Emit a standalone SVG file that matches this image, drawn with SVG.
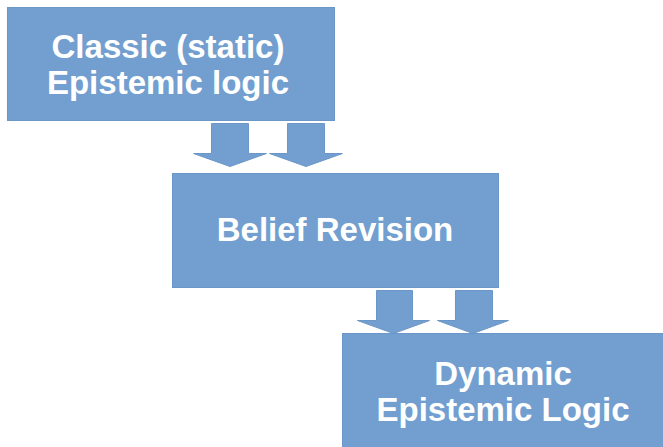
<svg xmlns="http://www.w3.org/2000/svg" width="663" height="447" viewBox="0 0 663 447">
<style>
.box{fill:#729fcf;stroke:#6b97c8;stroke-width:1}
.arr{fill:#729fcf;stroke:#6b97c8;stroke-width:1}
.lbl{font-family:"Liberation Sans",Arial,sans-serif;font-weight:bold;font-size:33px;fill:#ffffff;text-anchor:middle}
</style>
<rect width="663" height="447" fill="#ffffff"/>
<g id="connectors">
<path class="arr" d="M211.5,123.5 H248.5 V153.5 H266.5 L230,166.5 L193.5,153.5 H211.5 Z"/>
<path class="arr" d="M287.5,123.5 H324.5 V153.5 H342.5 L306,166.5 L269.5,153.5 H287.5 Z"/>
<path class="arr" d="M376.5,290.5 H412.5 V320.5 H429.5 L393.5,333.5 L357.5,320.5 H376.5 Z"/>
<path class="arr" d="M455.5,290.5 H492.5 V320.5 H508.5 L473,333.5 L437.5,320.5 H455.5 Z"/>
</g>
<g id="node-classic">
<rect class="box" x="7.5" y="7.5" width="327" height="113"/>
<text class="lbl" x="168" y="58">Classic (static)</text>
<text class="lbl" x="168" y="94">Epistemic logic</text>
</g>
<g id="node-belief">
<rect class="box" x="172.5" y="173.5" width="326" height="114"/>
<text class="lbl" x="335" y="241">Belief Revision</text>
</g>
<g id="node-dynamic">
<rect class="box" x="342.5" y="333.5" width="325" height="120"/>
<text class="lbl" x="503" y="385">Dynamic</text>
<text class="lbl" x="503" y="421">Epistemic Logic</text>
</g>
</svg>
